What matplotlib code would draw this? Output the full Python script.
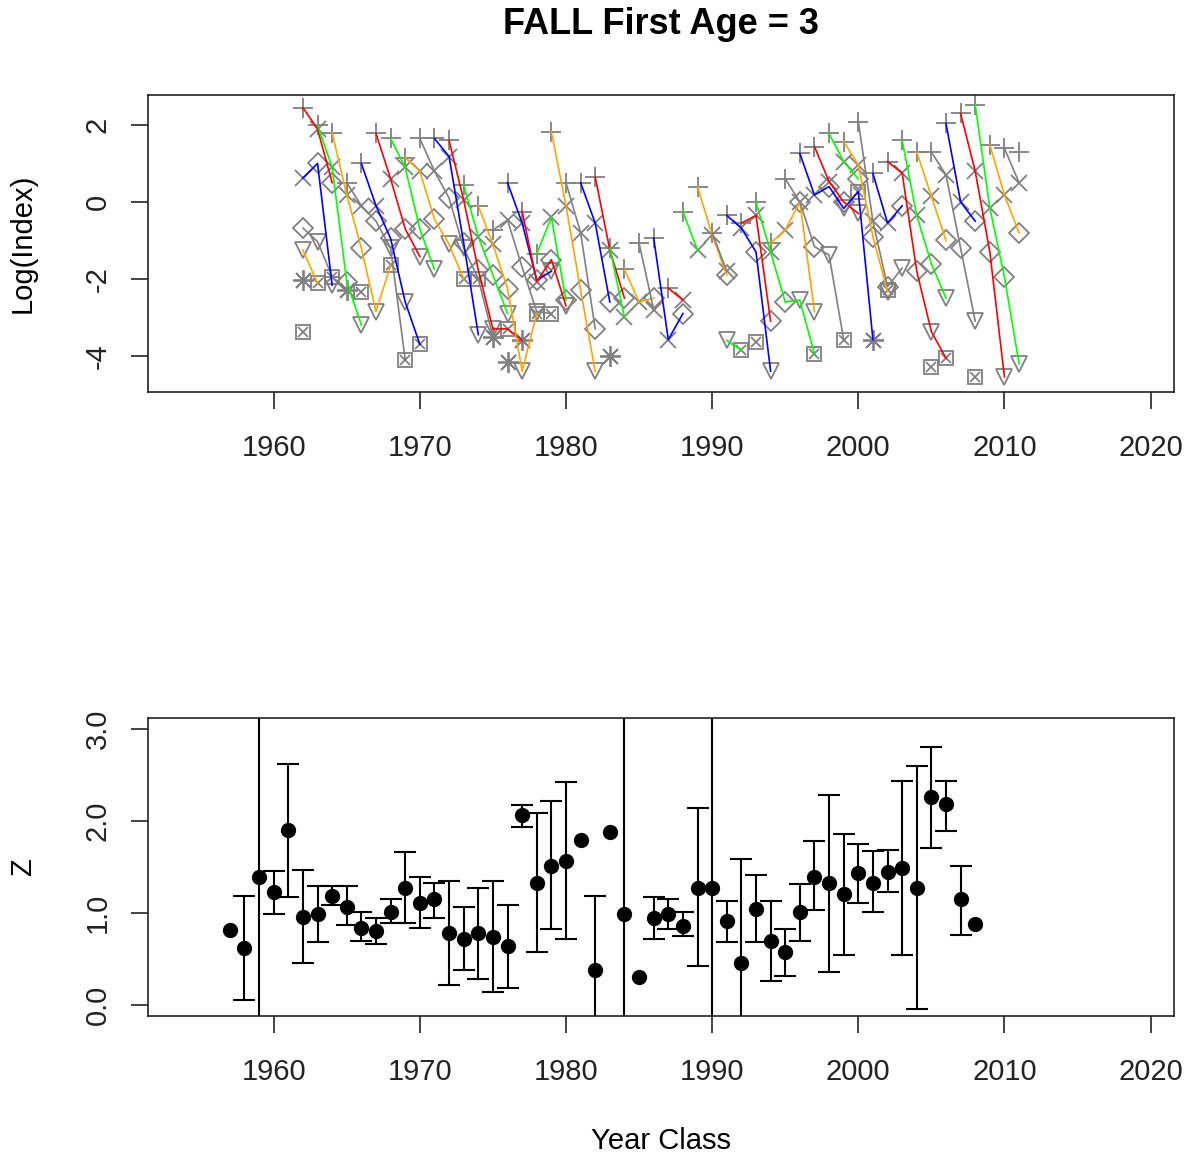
import numpy as np
import matplotlib
matplotlib.use("Agg")
import matplotlib.pyplot as plt

nan = np.nan
plt.rcParams['font.family'] = ['Liberation Sans', 'DejaVu Sans']
plt.rcParams['axes.unicode_minus'] = False

# ---------------- Top panel data: log(index) by survey year and age ----------------
years = list(range(1962, 2012))
age3 = [2.45, 2.0, 1.8, 0.5, 1.0, 1.78, 1.65, 1.15, 1.65, 1.65,
        1.6, 0.44, -0.1, -0.73, 0.5, -0.25, -1.35, 1.83, 0.5, 0.5,
        0.65, -1.2, -1.75, -1.07, -0.94, -2.24, -0.25, 0.4, -0.8, -0.35,
        -0.55, 0.0, -1.07, 0.6, 1.26, 1.44, 1.78, 1.57, 2.09, 0.74,
        1.05, 1.6, 1.3, 1.3, 2.04, 2.3, 2.52, 1.48, 1.39, 1.31]
age4 = [0.62, 1.9, 0.9, 0.18, -0.1, -0.1, 0.6, 0.9, 0.8, 0.8,
        1.18, 0.05, -0.9, -1.1, -0.47, -0.55, -2.07, -0.4, -0.1, -0.8,
        -0.55, -1.25, -3.0, -2.6, -2.8, -3.58, -2.55, -1.25, -0.86, -1.8,
        -0.68, -0.35, -1.3, -0.73, 0.0, 0.18, 0.53, 1.05, 0.96, -0.5,
        -0.55, 0.75, -0.35, 0.15, 0.7, 0.0, 0.8, -0.15, 0.18, 0.5]
age5 = [-0.68, 1.0, 0.5, -2.07, -1.2, -0.5, -0.95, -0.7, -0.7, -0.45,
        0.1, -1.07, -1.77, -1.9, -2.25, -1.7, -2.03, -1.5, -2.55, -2.3,
        -3.3, -2.6, -2.5, nan, -2.5, nan, -2.9, nan, nan, -1.9,
        nan, -1.3, -3.1, -2.6, 0.0, -1.16, 0.4, 0.0, 0.6, -0.9,
        -2.2, -0.1, -1.8, -1.6, -1.0, -1.2, -0.5, -1.3, -1.95, -0.8]
age6 = [-1.25, -1.03, -2.16, nan, -3.2, -2.85, -1.2, -2.6, -1.42, -1.75,
        -1.1, -1.2, -3.45, -3.3, -2.9, -4.4, -2.85, -1.8, -2.7, nan,
        -4.4, nan, nan, nan, nan, nan, nan, nan, nan, -3.6,
        nan, nan, -4.4, nan, -2.55, -2.85, -1.38, -0.17, -0.3, nan,
        -2.33, -1.72, nan, -3.37, -2.5, nan, -3.1, nan, -4.55, -4.2]
age7 = [-3.37, -2.11, -1.94, nan, -2.33, nan, -1.65, -4.1, -3.7, nan,
        nan, -2.0, -2.0, nan, -3.3, nan, -2.9, -2.9, nan, nan,
        nan, nan, nan, nan, nan, nan, nan, nan, nan, nan,
        -3.85, -3.63, nan, nan, nan, -3.95, nan, -3.58, 0.27, nan,
        -2.3, nan, nan, -4.28, -4.06, nan, -4.54, nan, nan, nan]
age8 = [-2.03, nan, nan, -2.3, nan, nan, nan, nan, nan, nan,
        nan, nan, nan, -3.5, -4.15, -3.6, nan, nan, nan, nan,
        nan, -4.0, nan, nan, nan, nan, nan, nan, nan, nan,
        nan, nan, nan, nan, nan, nan, nan, nan, nan, -3.58,
        nan, nan, nan, nan, nan, nan, nan, nan, nan, nan]
ages = [3, 4, 5, 6, 7, 8]
cohort_colors = ['#0000FF', '#FF0000', '#00FF00', '#FFA500', '#808080']

# ---------------- Bottom panel data: Z by year class ----------------
year_class = list(range(1957, 2009))
Z = [0.82, 0.62, 1.39, 1.23, 1.90, 0.96, 0.99, 1.19, 1.06, 0.84,
     0.80, 1.01, 1.27, 1.11, 1.15, 0.78, 0.72, 0.78, 0.74, 0.64,
     2.06, 1.33, 1.51, 1.57, 1.79, 0.38, 1.88, 0.99, 0.30, 0.95,
     0.99, 0.86, 1.27, 1.27, 0.91, 0.46, 1.04, 0.70, 0.58, 1.01,
     1.39, 1.33, 1.21, 1.43, 1.33, 1.45, 1.49, 1.27, 2.26, 2.18,
     1.15, 0.88]
Z_hi = [nan, 1.18, 9.0, 1.46, 2.62, 1.47, 1.29, 1.29, 1.29, 1.01,
        0.95, 1.15, 1.66, 1.39, 1.33, 1.35, 1.06, 1.27, 1.35, 1.09,
        2.17, 2.09, 2.22, 2.42, nan, 1.18, nan, 9.0, nan, 1.17,
        1.15, 1.01, 2.14, 9.0, 1.13, 1.59, 1.41, 1.13, 0.83, 1.31,
        1.78, 2.28, 1.86, 1.75, 1.67, 1.69, 2.44, 2.60, 2.80, 2.44,
        1.51, nan]
Z_lo = [nan, 0.05, -9.0, 0.99, 1.17, 0.46, 0.68, 1.09, 0.87, 0.70,
        0.66, 0.89, 0.89, 0.84, 0.95, 0.22, 0.38, 0.28, 0.14, 0.18,
        1.93, 0.58, 0.83, 0.72, nan, -1.0, nan, -9.0, nan, 0.72,
        0.83, 0.75, 0.42, -9.0, 0.68, -1.0, 0.68, 0.26, 0.32, 0.70,
        1.03, 0.36, 0.54, 1.11, 1.01, 1.23, 0.54, -0.04, 1.71, 1.89,
        0.76, nan]

W, H = 1192, 1158
fig = plt.figure(figsize=(W / 100, H / 100), dpi=100)
L, R = 148 / W, 1174 / W
ax1 = fig.add_axes([L, 1 - 392 / H, R - L, (392 - 95) / H])
ax2 = fig.add_axes([L, 1 - 1016 / H, R - L, (1016 - 718) / H])

FS = 21
gray = '#808080'
age_data = {3: age3, 4: age4, 5: age5, 6: age6, 7: age7, 8: age8}
yr = np.array(years, dtype=float)

# markers (one symbol per age)
mk = dict(linestyle='none', color=gray, markerfacecolor='none', markeredgecolor=gray,
          markeredgewidth=1.3, zorder=2)
ax1.plot(yr, age3, marker='+', markersize=15, **mk)
ax1.plot(yr, age4, marker='x', markersize=11, **mk)
ax1.plot(yr, age5, marker='D', markersize=10, **mk)
ax1.plot(yr, age6, marker='v', markersize=12, **mk)
ax1.plot(yr, age7, marker='s', markersize=10, **mk)
ax1.plot(yr, age7, marker='x', markersize=7, **mk)
ax1.plot(yr, age8, marker=(8, 2, 0), markersize=15, **mk)

# cohort lines
for yc in range(1954, 2009):
    xs, ys = [], []
    for a in ages:
        y = yc + a
        if 1962 <= y <= 2011:
            xs.append(y)
            ys.append(age_data[a][y - 1962])
    if len(xs) < 2:
        continue
    col = cohort_colors[(yc - 1958) % 5]
    ax1.plot(xs, ys, color=col, linewidth=1.2, zorder=3)

ax1.set_xlim(1951.4, 2021.6)
ax1.set_ylim(-4.94, 2.78)
ax1.set_xticks([1960, 1970, 1980, 1990, 2000, 2010, 2020])
ax1.set_yticks([-4, -2, 0, 2])
ax1.set_ylabel('Log(Index)', fontsize=FS, labelpad=34)
ax1.set_title('FALL First Age = 3', fontsize=26, fontweight='bold', pad=44)

# bottom panel
zc = np.array(year_class, dtype=float)
Zv = np.array(Z)
hi = np.array(Z_hi)
lo = np.array(Z_lo)
m = ~np.isnan(hi)
ax2.errorbar(zc[m], Zv[m], yerr=[Zv[m] - lo[m], hi[m] - Zv[m]], fmt='none',
             ecolor='black', elinewidth=1.5, capsize=8, capthick=1.5, zorder=2)
ax2.plot(zc, Zv, linestyle='none', marker='o', markersize=10, color='black', zorder=3)
ax2.set_xlim(1951.4, 2021.6)
ax2.set_ylim(-0.12, 3.12)
ax2.set_xticks([1960, 1970, 1980, 1990, 2000, 2010, 2020])
ax2.set_yticks([0, 1, 2, 3])
ax2.set_yticklabels(['0.0', '1.0', '2.0', '3.0'])
ax2.set_ylabel('Z', fontsize=FS, labelpad=34)
ax2.set_xlabel('Year Class', fontsize=FS, labelpad=30)

for ax in (ax1, ax2):
    for s in ax.spines.values():
        s.set_linewidth(1.2)
        s.set_color('#222222')
    ax.tick_params(axis='both', direction='out', length=12, width=1.2,
                   labelsize=FS, pad=18, colors='#222222')
    ax.tick_params(axis='y', labelrotation=90, pad=14)
    for t in ax.get_yticklabels():
        t.set_rotation_mode('anchor')
        t.set_ha('center')
        t.set_va('bottom')

fig.savefig('out.png', dpi=100)
